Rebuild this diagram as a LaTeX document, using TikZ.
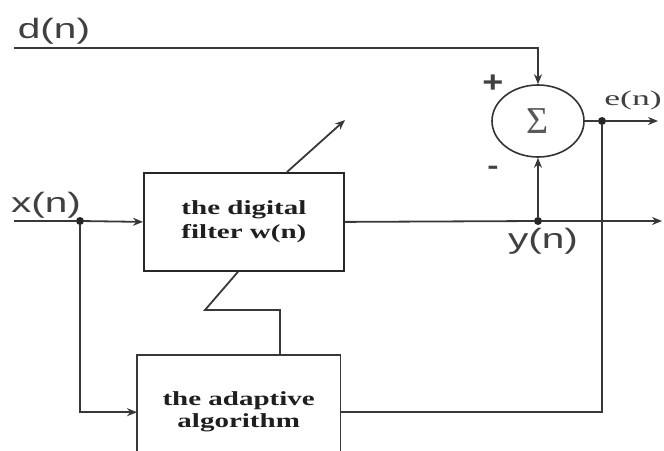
\documentclass[tikz,border=0pt]{standalone}
\usepackage{fontspec}
\setmainfont{Liberation Serif}
\newfontfamily\lsans{Liberation Sans}
\usetikzlibrary{arrows.meta,shapes.geometric}
\begin{document}
\begin{tikzpicture}[x=1pt,y=-1pt,
  wire/.style={draw=black!78, line width=1.8pt},
  arr/.style={wire,-{Stealth[length=10pt,width=8pt]}},
  dot/.style={circle, fill=black!85, inner sep=0pt, minimum size=8pt},
  blk/.style={rectangle, inner sep=0pt, anchor=north west, align=center,
    font=\bfseries\fontsize{20}{21}\selectfont, text=black!88},
  sig/.style={font=\lsans\fontsize{28}{28}\selectfont, text=black!75, inner sep=0pt},
  ser/.style={font=\fontsize{21}{22}\selectfont, text=black!75, inner sep=0pt}]
\useasboundingbox (0,0) rectangle (664,450);
\fill[white] (0,0) rectangle (664,450);
% blocks
\node[blk, draw=black!85, line width=1.8pt, minimum width=200pt, minimum height=98pt] (filt) at (143,172)
  {\scalebox{1.45}[1]{the digital}\\[3pt]\scalebox{1.45}[1]{filter w(n)}};
\node[blk, minimum width=203pt, minimum height=114pt] (abox) at (137,355)
  {\scalebox{1.45}[1]{the adaptive}\\[1pt]\scalebox{1.45}[1]{algorithm}};
\draw[wire] (abox.south west) -- (abox.north west) -- (abox.north east) -- (abox.south east);
\node[draw=black!80, line width=1.6pt, ellipse, minimum width=92pt, minimum height=72pt, inner sep=0pt] (sum) at (538,121)
  {\textcolor{black!65}{\fontsize{38}{38}\selectfont Σ}};
% points
\coordinate (din) at (14,48);
\coordinate (xin) at (14,221);
\coordinate (yout) at (662,221);
\coordinate (eout) at (658,121);
\coordinate (adjtip) at (345,120);
\node[dot] (xdot) at (80,221) {};
\node[dot] (ydot) at (538,221) {};
\node[dot] (edot) at (602,121) {};
% connectors
\draw[arr] (din) -| (sum.north);
\draw[wire] (xin) -- (xdot);
\draw[arr] (xdot) -- (filt.west);
\draw[arr] (xdot) |- (abox.west);
\draw[wire] (filt.east) -- (ydot);
\draw[arr] (ydot) -- (yout);
\draw[arr] (ydot) -- (sum.south);
\draw[wire] (sum.east) -- (edot);
\draw[arr] (edot) -- (eout);
\draw[wire] (edot) |- (abox.east);
\draw[arr] ([xshift=144pt]filt.north west) -- (adjtip);
\draw[wire] ([xshift=95pt]filt.south west) -- (205,310) -- ([xshift=143pt]abox.north west |- 0,310) -- ([xshift=143pt]abox.north west);
% labels
\node[sig] (ldn) at (54,31) {\scalebox{1.45}[1]{d(n)}};
\node[sig] (lxn) at (46,205) {\scalebox{1.45}[1]{x(n)}};
\node[sig] (lyn) at (543,241) {\scalebox{1.45}[1]{y(n)}};
\node[ser] (len) at (633,100) {\scalebox{1.7}[1]{e(n)}};
\node[sig, font=\lsans\bfseries\fontsize{30}{30}\selectfont] (lplus) at (493,84) {\scalebox{1.2}[1]{+}};
\node[sig, font=\lsans\bfseries\fontsize{26}{26}\selectfont] (lminus) at (493,170) {\scalebox{1.3}[1]{-}};
\end{tikzpicture}
\end{document}
